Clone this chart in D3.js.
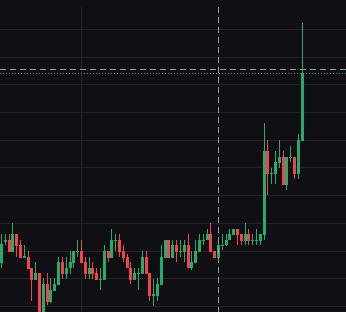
<!DOCTYPE html>
<html>
<head>
<meta charset="utf-8">
<script src="https://cdn.jsdelivr.net/npm/d3@7"></script>
<style>
  html, body { margin: 0; padding: 0; background: #101014; overflow: hidden; }
</style>
</head>
<body>
<div id="chart"></div>
<script>
// candle values (oldest -> newest)
const opens = [107.8,111.6,111.9,109.7,113.0,111.0,108.7,108.8,106.9,104.7,
  106.0,98.6,104.0,100.7,102.7,103.8,107.9,105.8,106.9,107.8,
  109.7,109.9,107.9,105.8,106.9,106.0,104.7,104.7,109.9,108.7,
  111.7,111.9,109.9,108.8,106.9,104.7,105.8,105.8,108.8,106.0,
  101.8,101.8,103.8,108.7,111.9,108.7,111.0,109.7,109.7,111.0,
  106.9,107.8,109.7,111.7,111.9,113.0,109.9,108.7,110.8,111.0,
  111.9,112.8,113.9,113.0,111.7,113.0,111.7,111.7,111.7,112.8,
  128.0,123.8,123.8,125.8,126.9,121.8,126.7,126.9,123.8,129.8];
const highs = [113.0,113.0,113.0,115.0,113.0,111.9,111.0,109.9,106.9,107.9,
  106.0,105.1,106.0,105.1,105.1,108.8,108.8,108.8,109.9,109.9,
  111.9,111.9,108.8,108.8,107.9,106.9,106.9,111.0,109.9,113.9,
  113.0,113.0,111.0,109.4,107.9,106.9,106.9,109.9,109.9,106.0,
  104.9,105.1,111.0,111.9,111.9,111.9,111.9,111.9,111.9,113.0,
  109.9,111.9,113.0,113.0,113.9,115.0,109.9,111.9,113.0,113.0,
  113.9,113.9,113.9,113.0,115.0,113.9,113.0,113.9,113.0,133.0,
  130.0,124.9,128.0,130.0,128.0,126.9,128.9,126.9,131.0,151.1];
const lows = [106.9,111.0,109.7,109.7,108.8,108.7,108.7,106.7,100.9,104.7,
  98.2,98.2,100.2,100.5,102.7,103.8,104.9,104.9,105.8,106.9,
  108.8,107.8,104.9,104.9,104.9,104.7,102.9,104.7,107.9,108.7,
  109.9,108.8,107.9,106.9,104.0,104.7,102.9,105.8,105.8,100.9,
  100.0,100.9,103.8,108.7,108.7,108.7,107.9,108.8,107.9,106.9,
  106.5,107.8,109.7,111.0,111.9,109.7,108.7,108.7,110.1,110.8,
  111.9,112.8,111.0,111.0,111.0,111.0,111.0,111.0,111.0,111.9,
  120.0,122.0,122.0,124.9,121.8,120.9,126.0,122.9,122.9,129.8];
const closes = [111.2,111.9,109.7,113.0,110.8,108.7,109.0,106.7,104.7,106.0,
  98.6,104.0,100.7,102.9,104.0,107.9,105.8,106.9,107.9,109.9,
  109.9,107.8,105.8,106.9,105.8,104.7,104.9,109.9,108.7,111.9,
  111.9,109.7,108.7,106.9,104.7,106.0,106.0,108.8,105.8,101.8,
  102.2,104.0,108.8,111.9,108.7,111.0,109.7,109.9,111.0,106.9,
  107.9,109.9,111.9,111.9,113.0,109.7,108.7,111.0,111.0,111.9,
  113.0,113.9,112.8,111.7,113.0,111.7,111.9,111.9,113.0,128.0,
  123.8,124.0,126.0,126.9,121.8,126.9,126.9,123.8,130.0,142.1];

const priceTicks = [100,105,110,115,120,125,130,135,140,145,150];
const timeGridIdx = [21, 57];
const crossIdx = 57;
const crossPrice = 142.7;

const width = 346, height = 312;
const up = '#27ab6c', down = '#f0454f';

const svg = d3.select('#chart').append('svg')
  .attr('width', width).attr('height', height)
  .style('display', 'block')
  .attr('shape-rendering', 'crispEdges');

svg.append('rect').attr('width', width).attr('height', height).attr('fill', '#101014');

const xScale = d3.scaleLinear().domain([0, closes.length - 1]).range([1.5, 302.2]);
const yScale = d3.scaleLinear().domain([98.92, 155.23]).range([height, 0]);

const candles = closes.map((c, i) => ({i, o: opens[i], h: highs[i], l: lows[i], c}));

// grid
const grid = svg.append('g').attr('stroke', '#222227').attr('stroke-width', 1);
grid.selectAll('line.h').data(priceTicks).join('line').attr('class', 'h')
  .attr('x1', 0).attr('x2', width)
  .attr('y1', d => Math.round(yScale(d)) + 0.5)
  .attr('y2', d => Math.round(yScale(d)) + 0.5);
grid.selectAll('line.v').data(timeGridIdx).join('line').attr('class', 'v')
  .attr('x1', d => Math.round(xScale(d) - 1.5) + 1.5)
  .attr('x2', d => Math.round(xScale(d) - 1.5) + 1.5)
  .attr('y1', 7).attr('y2', height);

// wicks
svg.append('g').selectAll('line').data(candles).join('line')
  .attr('x1', d => Math.round(xScale(d.i) - 1.5) + 1.5)
  .attr('x2', d => Math.round(xScale(d.i) - 1.5) + 1.5)
  .attr('y1', d => Math.round(yScale(d.h)))
  .attr('y2', d => Math.round(yScale(d.l)))
  .attr('stroke', d => d.c >= d.o ? up : down)
  .attr('stroke-width', 1);

// bodies
svg.append('g').selectAll('rect').data(candles).join('rect')
  .attr('x', d => Math.round(xScale(d.i) - 1.5))
  .attr('width', 3)
  .attr('y', d => Math.round(yScale(Math.max(d.o, d.c))))
  .attr('height', d => Math.max(1, Math.round(yScale(Math.min(d.o, d.c))) - Math.round(yScale(Math.max(d.o, d.c)))))
  .attr('fill', d => d.c >= d.o ? up : down);

// last price line
const last = closes[closes.length - 1];
svg.append('line')
  .attr('x1', 0).attr('x2', width)
  .attr('y1', Math.round(yScale(last)) + 0.5)
  .attr('y2', Math.round(yScale(last)) + 0.5)
  .attr('stroke', up).attr('stroke-width', 1)
  .attr('stroke-dasharray', '1 2');

// crosshair
const ch = svg.append('g').attr('stroke', '#9a9aa0').attr('stroke-width', 1).attr('stroke-dasharray', '6 4');
ch.append('line')
  .attr('x1', Math.round(xScale(crossIdx) - 1.5) + 1.5)
  .attr('x2', Math.round(xScale(crossIdx) - 1.5) + 1.5)
  .attr('y1', 7).attr('y2', height);
ch.append('line')
  .attr('x1', 0).attr('x2', width)
  .attr('y1', Math.round(yScale(crossPrice)) + 0.5)
  .attr('y2', Math.round(yScale(crossPrice)) + 0.5);
</script>
</body>
</html>
